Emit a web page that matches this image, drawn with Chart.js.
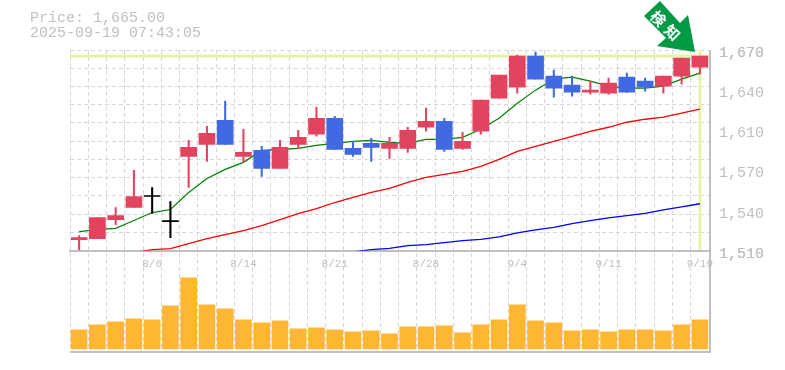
<!DOCTYPE html>
<html lang="ja">

<head>
  <meta charset="UTF-8">
  <title>Price chart</title>
  <script src="https://cdn.jsdelivr.net/npm/chart.js@4"></script>
  <style>
    html,
    body {
      margin: 0;
      padding: 0;
      background: #fff;
    }

    #wrap {
      position: relative;
      width: 785px;
      height: 370px;
      overflow: hidden;
    }

    #info {
      position: absolute;
      left: 30px;
      top: 11px;
      font: 15px/15px "Liberation Mono", monospace;
      color: #c0c0c0;
      white-space: pre;
    }

    #arrow {
      position: absolute;
      left: 0;
      top: 0;
    }
  </style>
</head>

<body>
  <div id="wrap">
    <canvas id="chart" width="785" height="370"></canvas>
    <div id="info">Price: 1,665.00
2025-09-19 07:43:05</div>
    <svg id="arrow" width="785" height="70">
      <polygon points="660,1 644,16 666,38 657,46 695,52 688,15 680,23" fill="#009944" />
      <text transform="translate(659,18) rotate(45)" text-anchor="middle" dominant-baseline="central"
        font-family="Noto Sans CJK JP" font-weight="700" font-size="15" fill="#fff">検</text>
      <text transform="translate(673,32) rotate(45)" text-anchor="middle" dominant-baseline="central"
        font-family="Noto Sans CJK JP" font-weight="700" font-size="15" fill="#fff">知</text>
    </svg>
  </div>

  <script>
    const dates = ['7/31', '8/1', '8/4', '8/5', '8/6', '8/7', '8/8', '8/12', '8/13', '8/14', '8/15', '8/18', '8/19',
      '8/20', '8/21', '8/22', '8/25', '8/26', '8/27', '8/28', '8/29', '9/1', '9/2', '9/3', '9/4', '9/5', '9/8', '9/9',
      '9/10', '9/11', '9/12', '9/16', '9/17', '9/18', '9/19'];
    const shownDates = ['8/6', '8/14', '8/21', '8/28', '9/4', '9/11', '9/19'];

    const opens = [1518.8, 1519.6, 1534.8, 1544.4, 1553.2, 1533.2, 1585.2, 1594.8, 1614, 1585.2, 1590, 1575.6, 1594.8,
      1602.8, 1615.6, 1591.6, 1595.6, 1591.6, 1591.6, 1608.4, 1613.2, 1591.6, 1605.2, 1631.6, 1640.4, 1665.2, 1649.2,
      1642, 1636.4, 1635.6, 1648.4, 1645.2, 1641.2, 1649.2, 1656.4];
    const closes = [1520.4, 1536.4, 1538, 1553.2, 1553.2, 1533.2, 1592.4, 1603.6, 1594.8, 1588.4, 1575.6, 1592.4, 1600.4,
      1615.6, 1590.8, 1586.8, 1592.4, 1595.6, 1606, 1613.2, 1590.8, 1597.2, 1630, 1650, 1665.2, 1646.8, 1639.6,
      1636.4, 1638, 1643.6, 1636.4, 1640.4, 1649.2, 1663.6, 1665.2];
    const highs = [1522, 1536.4, 1544.4, 1574, 1560.4, 1549.2, 1598, 1609.2, 1629.2, 1606.8, 1593.2, 1598, 1606,
      1624.4, 1617.2, 1597.2, 1599.6, 1600.4, 1608.4, 1623.6, 1615.6, 1604.4, 1630, 1650, 1666, 1668.4, 1654,
      1649.2, 1645.2, 1647.6, 1651.6, 1647.6, 1649.2, 1663.6, 1665.2];
    const lows = [1510.8, 1519.6, 1530.8, 1544.4, 1539.6, 1520.4, 1560.4, 1581.2, 1594.8, 1580.4, 1569.2, 1575.6, 1591.6,
      1601.2, 1590.8, 1585.2, 1581.2, 1583.6, 1588.4, 1605.2, 1589.2, 1590.8, 1602.8, 1631.6, 1635.6, 1646.8, 1632.4,
      1633.2, 1634.8, 1634.8, 1636.4, 1637.2, 1635.6, 1642.8, 1650.8];

    const maShort = [1525.2, 1526.8, 1527.8, 1534, 1540.4, 1542.8, 1556.4, 1567.6, 1574.8, 1580.4, 1590, 1590.8, 1591.6,
      1594, 1595.6, 1597.2, 1598, 1596.4, 1595.6, 1598.8, 1598.8, 1600.4, 1606.8, 1615.6, 1627.6, 1638, 1646.8,
      1648.4, 1645.2, 1641.2, 1639.6, 1639.6, 1641.2, 1646.8, 1651.6];
    const maMid = [null, null, null, 1508.4, 1510.8, 1511.6, 1515.6, 1519.6, 1522.8, 1526, 1530, 1534.8, 1539.6,
      1543.6, 1548.4, 1552.4, 1556.4, 1559.6, 1564.4, 1568.4, 1570.8, 1573.2, 1577.2, 1582.8, 1589.2, 1593.2, 1597.2,
      1601.2, 1605.2, 1608.4, 1612.4, 1614.8, 1616.4, 1619.6, 1622.8];
    const maLong = [null, null, null, null, null, null, null, null, null, null, null, null, null, null, null,
      1509, 1510.8, 1511.8, 1514, 1514.8, 1516.4, 1518, 1519, 1521, 1524.2, 1526.6, 1528.6, 1531.6, 1534, 1536.2,
      1538, 1539.8, 1542.6, 1545, 1547.4];

    const volumes = [1900, 2400, 2700, 3000, 2900, 4300, 7100, 4400, 4000, 2900, 2600, 2800, 2000, 2100, 1900, 1700,
      1800, 1500, 2200, 2200, 2300, 1600, 2400, 2900, 4400, 2800, 2600, 1800, 1900, 1700, 1900, 1900, 1800, 2400, 2900];

    const lastPrice = 1665.2;
    const priceTickValues = [1510, 1542, 1574, 1606, 1638, 1670];
    const priceTickLabels = ['1,510', '1,540', '1,570', '1,610', '1,640', '1,670'];

    const RED = '#e2435f';
    const BLUE = '#4169e1';
    const GRID = '#d6d6d6';
    const TEXT = '#c0c0c0';

    function candleColor(i) {
      if (closes[i] > opens[i]) return RED;
      if (closes[i] < opens[i]) return BLUE;
      return '#000000';
    }

    const candleColors = dates.map((d, i) => candleColor(i));

    // pale yellow cross on the latest price, and the solid frame lines
    const framePlugin = {
      id: 'frame',
      beforeDatasetsDraw(chart) {
        const { ctx, chartArea, scales } = chart;
        const py = scales.y.getPixelForValue(lastPrice);
        const px = scales.x.getPixelForValue(dates.length - 1);
        ctx.save();
        ctx.strokeStyle = '#e4f5a6';
        ctx.lineWidth = 3;
        ctx.beginPath();
        ctx.moveTo(chartArea.left, py);
        ctx.lineTo(chartArea.right, py);
        ctx.moveTo(px, scales.y.top);
        ctx.lineTo(px, scales.y.bottom - 1);
        ctx.stroke();
        ctx.restore();
      },
      afterDatasetsDraw(chart) {
        const { ctx, chartArea } = chart;
        ctx.save();
        ctx.strokeStyle = '#bfbfbf';
        ctx.lineWidth = 2;
        ctx.beginPath();
        ctx.moveTo(chartArea.right + 1, chartArea.top);
        ctx.lineTo(chartArea.right + 1, chartArea.bottom + 1);
        ctx.lineTo(chartArea.left, chartArea.bottom + 1);
        ctx.stroke();
        ctx.restore();
      }
    };

    function lineSet(data, color, width) {
      return {
        type: 'line',
        data: data,
        yAxisID: 'y',
        borderColor: color,
        borderWidth: width,
        pointRadius: 0,
        tension: 0,
        spanGaps: false,
        order: 3
      };
    }

    new Chart(document.getElementById('chart'), {
      data: {
        labels: dates,
        datasets: [
          lineSet(maShort, '#008000', 1.2),
          lineSet(maMid, '#ff0000', 1.3),
          lineSet(maLong, '#0000ff', 1.3),
          {
            type: 'bar',
            data: lows.map((l, i) => [l, highs[i]]),
            yAxisID: 'y',
            backgroundColor: candleColors,
            barThickness: 1.4,
            grouped: false,
            order: 2
          },
          {
            type: 'bar',
            data: opens.map((o, i) => [o, closes[i]]),
            yAxisID: 'y',
            backgroundColor: candleColors,
            barThickness: 16,
            minBarLength: 1,
            grouped: false,
            order: 1
          },
          {
            type: 'bar',
            data: volumes,
            yAxisID: 'yVol',
            backgroundColor: '#ffb733',
            barThickness: 16,
            grouped: false,
            order: 1
          }
        ]
      },
      options: {
        responsive: false,
        animation: false,
        events: [],
        layout: { padding: { left: 70, top: 50, right: 0, bottom: 12 } },
        plugins: { legend: { display: false }, tooltip: { enabled: false } },
        scales: {
          x: {
            type: 'category',
            position: { yVol: 9800 },
            offset: true,
            grid: { color: GRID, offset: true, drawTicks: false, lineWidth: 1 },
            border: { color: '#bfbfbf', width: 2, dash: [4, 3] },
            ticks: {
              autoSkip: false,
              maxRotation: 0,
              padding: 7,
              color: TEXT,
              font: { family: 'Liberation Mono', size: 11 },
              callback(value) {
                const label = this.getLabelForValue(value);
                return shownDates.includes(label) ? label : '';
              }
            }
          },
          y: {
            position: 'right',
            stack: 'panels',
            stackWeight: 2,
            min: 1510,
            max: 1670,
            afterBuildTicks(scale) {
              const ticks = priceTickValues.map(v => ({ value: v }));
              for (let i = 0; i <= 11; i++) {
                ticks.push({ value: 1510 + i * 160 / 11, gridOnly: true });
              }
              scale.ticks = ticks.sort((a, b) => a.value - b.value);
            },
            afterFit(scale) {
              scale.width = 76;
            },
            grid: {
              drawTicks: false,
              color(ctx) {
                return ctx.tick && ctx.tick.gridOnly ? GRID : 'rgba(0,0,0,0)';
              }
            },
            border: { display: false, dash: [4, 3] },
            ticks: {
              autoSkip: false,
              padding: 10,
              labelOffset: 3,
              color: TEXT,
              font: { family: 'Liberation Mono', size: 15 },
              callback(value) {
                const i = priceTickValues.indexOf(value);
                return i >= 0 ? priceTickLabels[i] : '';
              }
            }
          },
          yVol: {
            position: 'right',
            stack: 'panels',
            stackWeight: 1,
            min: -200,
            max: 9800,
            grid: { display: false },
            border: { display: false },
            ticks: { display: false },
            afterFit(scale) {
              scale.width = 76;
            }
          }
        }
      },
      plugins: [framePlugin]
    });
  </script>
</body>

</html>
